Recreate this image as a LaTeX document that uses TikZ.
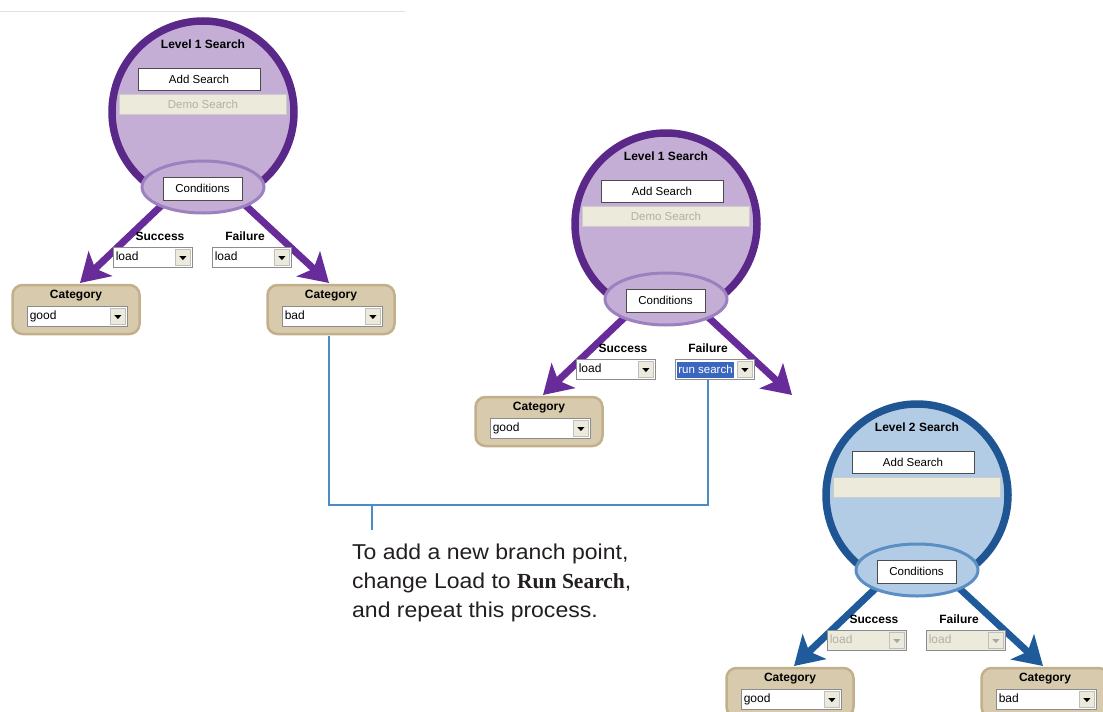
\documentclass[tikz,border=0pt]{standalone}
\usepackage{fontspec}
\setmainfont{Liberation Sans}
\newfontfamily\serifbold{Liberation Serif}
\newfontfamily\notefont[FakeStretch=1.07]{Liberation Sans}
\usetikzlibrary{arrows.meta,shapes.geometric,calc}
\pgfdeclarelayer{back}
\pgfdeclarelayer{mid}
\pgfsetlayers{back,mid,main}

\definecolor{purpring}{HTML}{5A2888}
\definecolor{purpfill}{HTML}{C5AED5}
\definecolor{purpell}{HTML}{9C80C0}
\definecolor{purparrow}{HTML}{672C9A}
\definecolor{bluering}{HTML}{1E5592}
\definecolor{bluefill}{HTML}{B3CCE6}
\definecolor{blueell}{HTML}{5B8EC2}
\definecolor{bluearrow}{HTML}{1F5B9B}
\definecolor{tanfill}{HTML}{D8CAAC}
\definecolor{tanedge}{HTML}{C2AF8B}
\definecolor{fieldc}{HTML}{ECEADB}
\definecolor{fieldtext}{HTML}{B2B0A6}
\definecolor{connc}{HTML}{4B8BC8}
\definecolor{hlc}{HTML}{3A66C0}
\definecolor{notec}{HTML}{231F20}

\tikzset{
  ui/.style={font=\fontsize{11.5}{13}\selectfont},
  uib/.style={font=\bfseries\fontsize{12}{14}\selectfont, inner sep=0},
  ring/.style={circle, line width=7.5pt, minimum size=182pt, inner sep=0},
  condell/.style={ellipse, line width=3pt, minimum width=122pt, minimum height=52pt, inner sep=0},
  btn/.style={draw=black!70, fill=white, line width=0.8pt, minimum height=22pt, inner sep=0, ui},
  fieldbox/.style={draw=black!20, fill=fieldc, minimum width=167pt, minimum height=20pt, inner sep=0, ui, text=fieldtext},
  ddbox/.style={draw=black!45, line width=0.8pt, minimum height=20pt, inner sep=0},
  ddtext/.style={font=\fontsize{12}{14}\selectfont, inner sep=0, text height=8.5pt, text depth=2.5pt, anchor=west},
  ddbtn/.style={draw=black!25, fill=fieldc, minimum width=15pt, minimum height=16pt, inner sep=0},
  catbox/.style={draw=tanedge, fill=tanfill, line width=2.5pt, rounded corners=10pt, minimum width=127pt, minimum height=49pt, inner sep=0},
  bigarrow/.style={line width=7pt, -{Stealth[length=28pt,width=34pt,inset=7pt]}},
  conn/.style={draw=connc, line width=2.5pt},
}

% dropdown: #1 name, #2 x, #3 y, #4 width, #5 text, #6 box fill, #7 text colour, #8 triangle colour
\newcommand{\ddown}[8]{%
  \node[ddbox, fill=#6, minimum width=#4pt] (#1) at (#2,#3) {};
  \node[ddtext, text=#7] (#1-t) at ([xshift=3pt]#1.west) {#5};
  \node[ddbtn] (#1-b) at ([xshift=-9.5pt]#1.east) {};
  \fill[#8] ($(#1-b.center)+(-3.5,-1.3)$) -- ++(7,0) -- ++(-3.5,3.8) -- cycle;
}

% category box: #1 name, #2 x, #3 y, #4 value
\newcommand{\category}[4]{%
  \node[catbox] (#1) at (#2,#3) {};
  \node[uib] (#1-h) at (#2,#3-13.5) {Category};
  \ddown{#1-dd}{#2+1}{#3+7}{100}{#4}{white}{black}{black}
}

% search ring: #1 prefix, #2 dx, #3 dy, #4 title, #5 ring, #6 fill, #7 ellipse edge, #8 field text
\newcommand{\searchring}[8]{%
  \begin{scope}[shift={(#2,#3)}]
    \begin{pgfonlayer}{back}
      \node[ring, draw=#5, fill=#6] (#1ring) at (203,112) {};
    \end{pgfonlayer}
    \node[uib] (#1title) at (203,44) {#4};
    \node[btn, minimum width=122pt] (#1add) at (199,79) {Add Search};
    \node[fieldbox] (#1field) at (203,104) {#8};
    \node[condell, draw=#7, fill=#6] (#1cond) at (203,187) {};
    \coordinate (#1hub) at (203,166);
    \node[btn, minimum width=79pt, minimum height=23pt] (#1condbtn) at (202.5,188.5) {Conditions};
    \node[uib] (#1succ) at (160,236) {Success};
    \node[uib] (#1fail) at (245,236) {Failure};
  \end{scope}
}

\begin{document}
\begin{tikzpicture}[x=1pt, y=-1pt]
\useasboundingbox (0,0) rectangle (1103,712);

% faint top rule
\coordinate (ruleA) at (0,11);
\coordinate (ruleB) at (405,11);
\draw[black!12, line width=0.8pt] (ruleA) -- (ruleB);

% ---------- group 1 ----------
\searchring{ga}{0}{0}{Level 1 Search}{purpring}{purpfill}{purpell}{Demo Search}
\ddown{gas}{152.5}{257.5}{79}{load}{white}{black}{black}
\ddown{gaf}{251.5}{257.5}{79}{load}{white}{black}{black}
\category{gacatL}{76}{309.5}{good}
\category{gacatR}{331}{309.5}{bad}
\coordinate (gatipL) at (80,283);
\coordinate (gatipR) at (329,283);
\begin{pgfonlayer}{mid}
  \draw[bigarrow, draw=purparrow, fill=purparrow] (gahub) -- (gatipL);
  \draw[bigarrow, draw=purparrow, fill=purparrow] (gahub) -- (gatipR);
\end{pgfonlayer}

% ---------- group 2 ----------
\searchring{gb}{463}{112}{Level 1 Search}{purpring}{purpfill}{purpell}{Demo Search}
\ddown{gbs}{615.5}{369.5}{79}{load}{white}{black}{black}
\ddown{gbf}{714.5}{369.5}{79}{}{white}{black}{black}
\node[fill=hlc, text=white, ui, inner sep=0, minimum width=57pt, minimum height=16pt] (gbhl) at (705.5,369.5) {run search};
\category{gbcatL}{539}{421.5}{good}
\coordinate (gbtipL) at (543,395);
\coordinate (gbtipR) at (792,395);
\begin{pgfonlayer}{mid}
  \draw[bigarrow, draw=purparrow, fill=purparrow] (gbhub) -- (gbtipL);
  \draw[bigarrow, draw=purparrow, fill=purparrow] (gbhub) -- (gbtipR);
\end{pgfonlayer}

% ---------- group 3 ----------
\searchring{gc}{714}{383}{Level 2 Search}{bluering}{bluefill}{blueell}{}
\ddown{gcs}{866.5}{640.5}{79}{load}{fieldc}{fieldtext}{black!35}
\ddown{gcf}{965.5}{640.5}{79}{load}{fieldc}{fieldtext}{black!35}
\category{gccatL}{790}{692.5}{good}
\category{gccatR}{1045}{692.5}{bad}
\coordinate (gctipL) at (794,666);
\coordinate (gctipR) at (1043,666);
\begin{pgfonlayer}{mid}
  \draw[bigarrow, draw=bluearrow, fill=bluearrow] (gchub) -- (gctipL);
  \draw[bigarrow, draw=bluearrow, fill=bluearrow] (gchub) -- (gctipR);
\end{pgfonlayer}

% ---------- callout ----------
\coordinate (bend) at (708,505);
\coordinate (stub) at (372,505);
\draw[conn] ([yshift=-1pt]gacatR.south -| gatipR) |- (bend) -- (bend |- gbf.south);
\node[anchor=north west, align=left, inner sep=0, text=notec,
      font=\notefont\fontsize{21.5}{29}\selectfont] (note) at (352,544)
  {To add a new branch point,\\change Load to {\serifbold\bfseries Run Search},\\and repeat this process.};
\draw[conn] (stub) -- ([yshift=14pt]stub |- note.north);
\end{tikzpicture}
\end{document}
